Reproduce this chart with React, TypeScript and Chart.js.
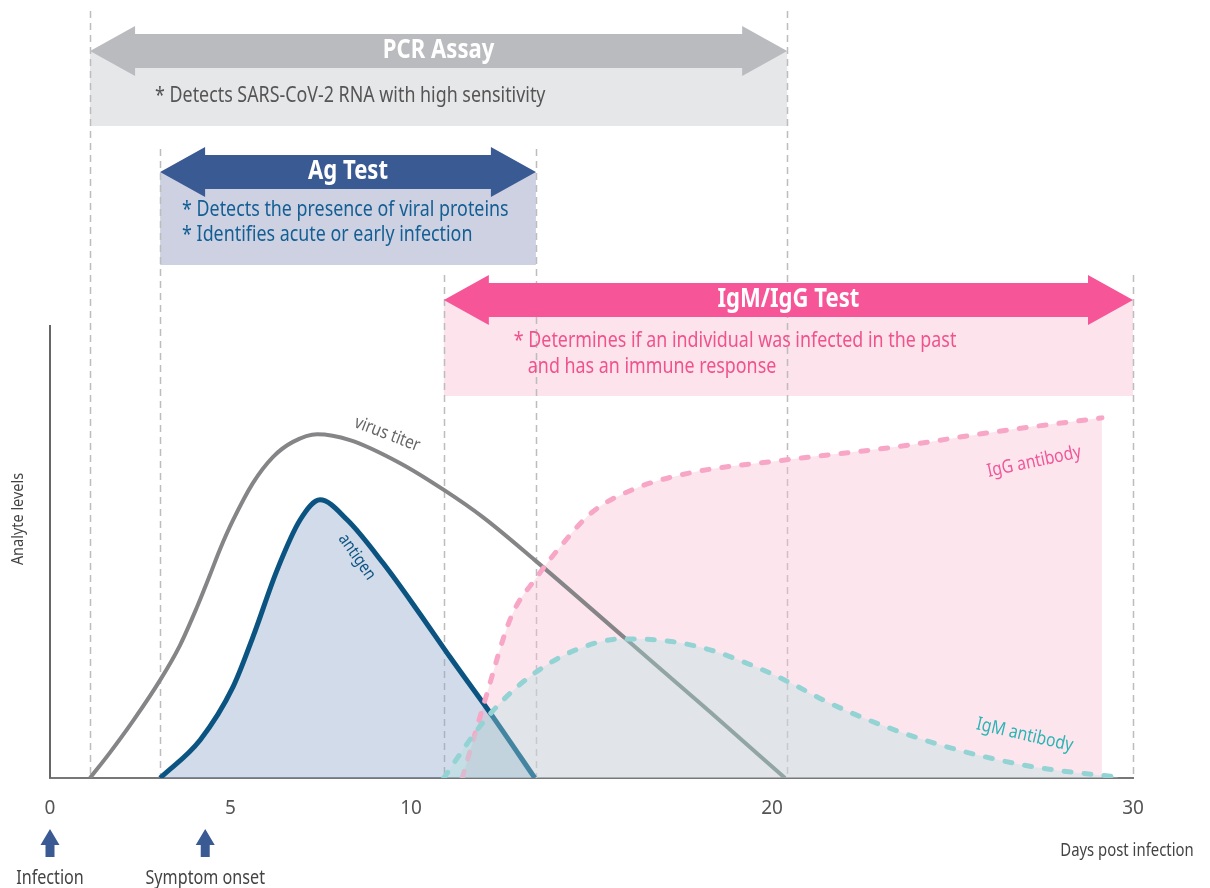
import React, { useEffect, useRef } from 'react';
import { Chart, registerables } from 'chart.js';

Chart.register(...registerables);

// ---- data ----
const tickDays = [0, 5, 10, 20, 30];

const virusDays = [1.11, 1.66, 2.3, 3.05, 3.6, 4.07, 4.43, 4.71, 5.07, 5.62, 6.18, 6.73, 7.4, 8.31, 9.7, 10.91, 11.99, 13.43, 15.98, 18.28, 20.36];
const virusLevels = [0, 5.6, 12.6, 21.6, 29.3, 37.7, 44.8, 50.5, 56.9, 65.1, 70.9, 74.2, 75.9, 74.6, 69.5, 63.6, 57.6, 48.1, 30.5, 14.6, 0];

const antigenDays = [3.05, 4.16, 5.07, 5.62, 6.29, 6.93, 7.48, 8.23, 9.22, 10.17, 11.08, 12.27, 13.43];
const antigenLevels = [0, 8.4, 20.1, 31.1, 45.9, 57.0, 61.4, 57.0, 47.5, 37.1, 26.7, 13.5, 0];

const igmDays = [10.91, 11.83, 12.55, 13.43, 14.57, 15.84, 17.15, 18.28, 19.56, 20.36, 21.58, 23.16, 25.15, 27.29, 29.58];
const igmLevels = [0, 10.6, 17.2, 23.2, 28.3, 30.7, 30.2, 28.3, 24.5, 21.6, 16.6, 11.3, 6.2, 2.4, 0.2];

const iggDays = [11.42, 12.05, 12.77, 13.49, 14.13, 14.99, 16.12, 17.7, 20.36, 23.43, 26.15, 29.14];
const iggLevels = [0, 17.2, 35.5, 44.4, 51.0, 58.5, 63.6, 67.3, 70.2, 73.1, 76.4, 79.5];

const testNames = ['PCR Assay', 'Ag Test', 'IgM/IgG Test'];
const testStartDays = [1.11, 3.05, 10.91];
const testEndDays = [20.42, 13.46, 30];
const testNotes = [
  ['* Detects SARS-CoV-2 RNA with high sensitivity'],
  ['* Detects the presence of viral proteins', '* Identifies acute or early infection'],
  ['* Determines if an individual was infected in the past', 'and has an immune response'],
];

const eventNames = ['Infection', 'Symptom onset'];
const eventDays = [0, 4.3];

const curveNames = ['virus titer', 'antigen', 'IgG antibody', 'IgM antibody'];

const FONT = "'Noto Sans', 'Open Sans', sans-serif";
const COND = 0.85;

function pts(xs: number[], ys: number[]) {
  return xs.map((x, i) => ({ x, y: ys[i] }));
}

function txt(ctx: CanvasRenderingContext2D, s: string, x: number, y: number, o: { size: number; color: string; weight?: string; align?: CanvasTextAlign; rot?: number }) {
  ctx.save();
  ctx.translate(x, y);
  if (o.rot) ctx.rotate((o.rot * Math.PI) / 180);
  ctx.scale(COND, 1);
  ctx.font = `${o.weight || 'normal'} ${o.size}px ${FONT}`;
  ctx.fillStyle = o.color;
  ctx.textAlign = o.align || 'left';
  ctx.textBaseline = 'middle';
  ctx.fillText(s, 0, 0);
  ctx.restore();
}

function doubleArrow(ctx: CanvasRenderingContext2D, x1: number, x2: number, cy: number, color: string) {
  const sh = 17, hh = 25, hl = 45;
  ctx.beginPath();
  ctx.moveTo(x1, cy);
  ctx.lineTo(x1 + hl, cy - hh);
  ctx.lineTo(x1 + hl, cy - sh);
  ctx.lineTo(x2 - hl, cy - sh);
  ctx.lineTo(x2 - hl, cy - hh);
  ctx.lineTo(x2, cy);
  ctx.lineTo(x2 - hl, cy + hh);
  ctx.lineTo(x2 - hl, cy + sh);
  ctx.lineTo(x1 + hl, cy + sh);
  ctx.lineTo(x1 + hl, cy + hh);
  ctx.closePath();
  ctx.fillStyle = color;
  ctx.fill();
}

const rows = [
  { cy: 51, bottom: 126, lineTop: 11, arrow: '#babbbe', band: '#e6e7e9', note: '#555555', noteX: [65], noteY: [96] },
  { cy: 172, bottom: 265, lineTop: 149, arrow: '#3a5a94', band: '#cdd1e2', note: '#135e93', noteX: [22, 22], noteY: [210, 235] },
  { cy: 300, bottom: 396, lineTop: 275, arrow: '#f65597', band: '#fde3ec', note: '#f0528c', noteX: [70, 84], noteY: [341, 367] },
];

const decor = {
  id: 'decor',
  beforeDatasetsDraw(chart: any) {
    const ctx: CanvasRenderingContext2D = chart.ctx;
    const xs = chart.scales.x;
    const base = chart.chartArea.bottom;
    ctx.save();
    rows.forEach((r, i) => {
      const a = xs.getPixelForValue(testStartDays[i]);
      const b = xs.getPixelForValue(testEndDays[i]);
      ctx.fillStyle = r.band;
      ctx.fillRect(a, r.cy, b - a, r.bottom - r.cy);
    });
    ctx.strokeStyle = '#bdbdbd';
    ctx.lineWidth = 1.5;
    ctx.setLineDash([7, 5]);
    rows.forEach((r, i) => {
      [testStartDays[i], testEndDays[i]].forEach((d) => {
        const px = Math.round(xs.getPixelForValue(d)) + 0.5;
        ctx.beginPath();
        ctx.moveTo(px, r.lineTop);
        ctx.lineTo(px, base);
        ctx.stroke();
      });
    });
    ctx.setLineDash([]);
    rows.forEach((r, i) => {
      const a = xs.getPixelForValue(testStartDays[i]);
      const b = xs.getPixelForValue(testEndDays[i]);
      doubleArrow(ctx, a, b, r.cy, r.arrow);
      txt(ctx, testNames[i], (a + b) / 2, r.cy, { size: 26, weight: 'bold', color: '#ffffff', align: 'center' });
      testNotes[i].forEach((line, j) => {
        txt(ctx, line, a + r.noteX[j], r.noteY[j], { size: 21, color: r.note });
      });
    });
    ctx.restore();
  },
  afterDatasetsDraw(chart: any) {
    const ctx: CanvasRenderingContext2D = chart.ctx;
    const xs = chart.scales.x;
    const ys = chart.scales.y;
    const ca = chart.chartArea;
    ctx.save();
    ctx.strokeStyle = '#666666';
    ctx.lineWidth = 2;
    ctx.beginPath();
    ctx.moveTo(ca.left, ca.top);
    ctx.lineTo(ca.left, ca.bottom);
    ctx.stroke();
    const P = (d: number, v: number) => [xs.getPixelForValue(d), ys.getPixelForValue(v)];
    let p = P(9.34, 75.9);
    txt(ctx, curveNames[0], p[0], p[1], { size: 18, color: '#666666', align: 'center', rot: 21 });
    p = P(8.5, 48.8);
    txt(ctx, curveNames[1], p[0], p[1], { size: 17, color: '#0b5482', align: 'center', rot: 55 });
    p = P(27.26, 69.8);
    txt(ctx, curveNames[2], p[0], p[1], { size: 18.5, color: '#ef5799', align: 'center', rot: -12 });
    p = P(27.0, 9.5);
    txt(ctx, curveNames[3], p[0], p[1], { size: 18.5, color: '#2bb4b3', align: 'center', rot: 13 });
    txt(ctx, 'Analyte levels', 18, 519, { size: 17, color: '#444444', align: 'center', rot: -90 });
    txt(ctx, 'Days post infection', 1127, 851, { size: 17.5, color: '#444444', align: 'center' });
    eventDays.forEach((d, i) => {
      const x = xs.getPixelForValue(d);
      ctx.fillStyle = '#3a5a94';
      ctx.beginPath();
      ctx.moveTo(x, 829);
      ctx.lineTo(x + 9.5, 845);
      ctx.lineTo(x + 4.5, 845);
      ctx.lineTo(x + 4.5, 857);
      ctx.lineTo(x - 4.5, 857);
      ctx.lineTo(x - 4.5, 845);
      ctx.lineTo(x - 9.5, 845);
      ctx.closePath();
      ctx.fill();
      txt(ctx, eventNames[i], x, 879, { size: 19, color: '#444444', align: 'center' });
    });
    ctx.restore();
  },
};

export default function App() {
  const ref = useRef<HTMLCanvasElement>(null);
  useEffect(() => {
    if (!ref.current) return;
    Chart.defaults.font.family = FONT;
    const mono = { pointRadius: 0, pointHoverRadius: 0, cubicInterpolationMode: 'monotone' as const, tension: 0.4 };
    const chart = new Chart(ref.current, {
      type: 'line',
      data: {
        datasets: [
          { ...mono, label: 'IgM antibody', data: pts(igmDays, igmLevels), borderColor: '#94d3d4', borderWidth: 5, borderDash: [7, 13], borderCapStyle: 'round', fill: false },
          { ...mono, label: 'IgM area', data: pts(igmDays, igmLevels), borderColor: 'rgba(0,0,0,0)', borderWidth: 1, backgroundColor: 'rgba(173,227,222,0.35)', fill: 'origin' },
          { ...mono, label: 'IgG antibody', data: pts(iggDays, iggLevels), borderColor: '#f8a6c6', borderWidth: 5, borderDash: [7, 13], borderCapStyle: 'round', fill: false },
          { ...mono, label: 'antigen', data: pts(antigenDays, antigenLevels), borderColor: '#0b5482', borderWidth: 5, backgroundColor: 'rgba(140,165,200,0.4)', fill: 'origin' },
          { ...mono, label: 'virus titer', data: pts(virusDays, virusLevels), borderColor: '#858587', borderWidth: 4, fill: false },
          { ...mono, label: 'IgG area', data: pts(iggDays, iggLevels), borderColor: 'rgba(0,0,0,0)', borderWidth: 1, backgroundColor: 'rgba(250,190,212,0.4)', fill: 'origin' },
        ],
      },
      options: {
        responsive: false,
        animation: false,
        layout: { padding: { left: 50, right: 77, top: 325, bottom: 0 } },
        plugins: { legend: { display: false }, tooltip: { enabled: false } },
        events: [],
        scales: {
          x: {
            type: 'linear',
            min: 0,
            max: 30,
            grid: { display: false, drawTicks: false },
            border: { display: true, color: '#777777', width: 2 },
            ticks: { font: { family: FONT, size: 19 }, color: '#555555', padding: 19, autoSkip: false, maxRotation: 0 },
            afterBuildTicks: (s: any) => {
              s.ticks = tickDays.map((v) => ({ value: v }));
            },
            afterFit: (s: any) => {
              s.height = 110;
            },
          },
          y: { display: false, min: 0, max: 100 },
        },
      },
      plugins: [decor],
    } as any);
    return () => chart.destroy();
  }, []);
  return (
    <div style={{ position: 'absolute', left: 0, top: 0, width: 1210, height: 888, background: '#ffffff' }}>
      <canvas ref={ref} width={1210} height={888} style={{ width: 1210, height: 888, display: 'block' }} />
    </div>
  );
}
